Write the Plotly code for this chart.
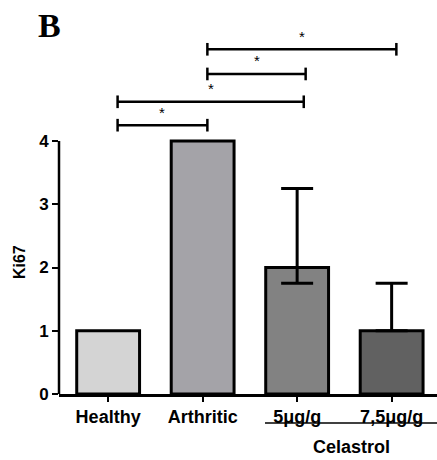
import plotly.graph_objects as go

# Ki67 scores per group
groups = ["Healthy", "Arthritic", "5μg/g", "7,5μg/g"]
ki67 = [1, 4, 2, 1]
bar_colors = ["#d4d4d4", "#a4a3a8", "#828282", "#616161"]

# Error bars (only the treated groups carry them)
err_groups = [2, 3]
err_plus = [1.25, 0.75]
err_minus = [0.25, 0]

# Significance brackets: (left x, right x, height)
bracket_left = [0.1, 0.1, 1.05, 1.05]
bracket_right = [1.05, 2.07, 2.09, 3.05]
bracket_y = [4.25, 4.62, 5.06, 5.45]
bracket_label = ["*", "*", "*", "*"]

FONT = "Liberation Sans, Arial, sans-serif"

fig = go.Figure()
fig.add_trace(go.Bar(
    x=list(range(len(groups))),
    y=ki67,
    width=0.665,
    marker=dict(color=bar_colors, line=dict(color="black", width=3)),
    showlegend=False,
))
fig.add_trace(go.Scatter(
    x=err_groups,
    y=[ki67[i] for i in err_groups],
    mode="markers",
    marker=dict(size=1, opacity=0),
    error_y=dict(type="data", symmetric=False, array=err_plus,
                 arrayminus=err_minus, color="black", thickness=3, width=16),
    showlegend=False, hoverinfo="skip",
))

shapes = []
annotations = []
cap = 0.1
for x0, x1, yb, lab in zip(bracket_left, bracket_right, bracket_y, bracket_label):
    shapes.append(dict(type="line", xref="x", yref="y", x0=x0, x1=x1, y0=yb, y1=yb,
                       line=dict(color="black", width=2.5)))
    for xe in (x0, x1):
        shapes.append(dict(type="line", xref="x", yref="y", x0=xe, x1=xe,
                           y0=yb - cap, y1=yb + cap,
                           line=dict(color="black", width=2.5)))
    annotations.append(dict(x=(x0 + x1) / 2, y=yb + 0.04, xref="x", yref="y",
                            text=lab, showarrow=False, yanchor="bottom",
                            font=dict(family=FONT, size=15, color="black")))

# y axis line only spans 0..4
shapes.append(dict(type="line", xref="paper", yref="y", x0=0, x1=0, y0=0, y1=4,
                   line=dict(color="black", width=2.5)))
# Celastrol group line
shapes.append(dict(type="line", xref="paper", yref="paper", x0=0.545, x1=1.0,
                   y0=-0.0765, y1=-0.0765, line=dict(color="black", width=1.5)))

annotations.append(dict(x=0.775, y=-0.14, xref="paper", yref="paper", text="Celastrol",
                        showarrow=False, xanchor="center", yanchor="middle",
                        font=dict(family=FONT, size=18, color="black", weight="bold")))
annotations.append(dict(x=-0.106, y=0.348, xref="paper", yref="paper", text="Ki67",
                        showarrow=False, textangle=-90, xanchor="center", yanchor="middle",
                        font=dict(family=FONT, size=16, color="black", weight="bold")))
annotations.append(dict(x=-0.024, y=0.972, xref="paper", yref="paper", text="B",
                        showarrow=False, xanchor="center", yanchor="middle",
                        font=dict(family="Liberation Serif, Times New Roman, serif",
                                  size=34, color="black", weight="bold")))

fig.update_layout(
    width=437, height=460,
    margin=dict(l=59, r=0, t=15, b=66),
    plot_bgcolor="white", paper_bgcolor="white",
    shapes=shapes, annotations=annotations,
    xaxis=dict(range=[-0.52, 3.48], tickvals=list(range(len(groups))), ticktext=groups,
               showline=True, linecolor="black", linewidth=2.5, ticks="outside",
               ticklen=5, tickwidth=2, tickcolor="black", showgrid=False, zeroline=False,
               tickfont=dict(family=FONT, size=18, color="black", weight="bold")),
    yaxis=dict(range=[0, 5.992], tickvals=[0, 1, 2, 3, 4], showline=False,
               ticks="outside", ticklen=6, tickwidth=2, tickcolor="black",
               showgrid=False, zeroline=False,
               tickfont=dict(family=FONT, size=17, color="black", weight="bold")),
)

fig.write_html("out.html")
